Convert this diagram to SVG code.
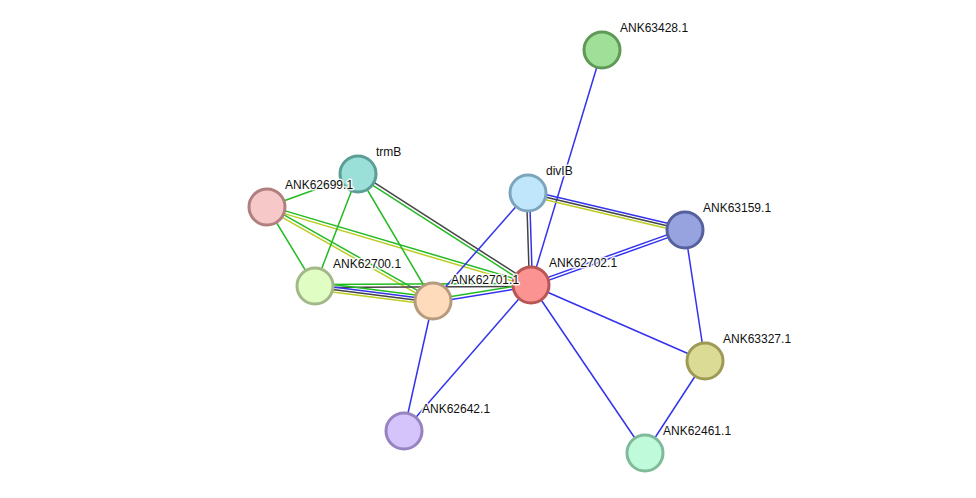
<svg xmlns="http://www.w3.org/2000/svg" width="976" height="498" viewBox="0 0 976 498">
<style>
.e{stroke-width:1.5;fill:none}
.b{stroke:#3333ee}
.g{stroke:#22bb22}
.k{stroke:#444444}
.y{stroke:#bbcc22}
.n{stroke-width:3}
text{font-family:"Liberation Sans",Arial,sans-serif;font-size:12px;fill:#111;stroke:#fff;stroke-width:3;stroke-opacity:0.85;paint-order:stroke;stroke-linejoin:round}
</style>
<rect width="976" height="498" fill="#fff"/>
<g id="edges">
<line class="e g" x1="267" y1="207" x2="358" y2="174"/>
<line class="e g" x1="267" y1="207" x2="315" y2="286"/>
<line class="e g" x1="267.7" y1="205.7" x2="433.7" y2="299.7"/>
<line class="e y" x1="266.3" y1="208.3" x2="432.3" y2="302.3"/>
<line class="e g" x1="267.4" y1="205.6" x2="531.4" y2="283.6"/>
<line class="e y" x1="266.6" y1="208.4" x2="530.6" y2="286.4"/>
<line class="e g" x1="358" y1="174" x2="315" y2="286"/>
<line class="e g" x1="358" y1="174" x2="433" y2="301"/>
<line class="e k" x1="358.8" y1="172.7" x2="531.8" y2="283.7"/>
<line class="e g" x1="357.2" y1="175.3" x2="530.2" y2="286.3"/>
<line class="e g" x1="315" y1="284.5" x2="531" y2="283.5"/>
<line class="e k" x1="315" y1="287.5" x2="531" y2="286.5"/>
<line class="e g" x1="315.5" y1="282.3" x2="433.5" y2="297.3"/>
<line class="e b" x1="315.2" y1="284.8" x2="433.2" y2="299.8"/>
<line class="e k" x1="314.8" y1="287.2" x2="432.8" y2="302.2"/>
<line class="e y" x1="314.5" y1="289.7" x2="432.5" y2="304.7"/>
<line class="e g" x1="432.8" y1="299.5" x2="530.8" y2="283.5"/>
<line class="e b" x1="433.2" y1="302.5" x2="531.2" y2="286.5"/>
<line class="e b" x1="433" y1="301" x2="528" y2="193"/>
<line class="e b" x1="433" y1="301" x2="404" y2="431"/>
<line class="e b" x1="532.5" y1="285" x2="529.5" y2="193"/>
<line class="e k" x1="529.5" y1="285" x2="526.5" y2="193"/>
<line class="e b" x1="531" y1="285" x2="602" y2="50"/>
<line class="e b" x1="531.5" y1="286.4" x2="685.5" y2="231.4"/>
<line class="e b" x1="530.5" y1="283.6" x2="684.5" y2="228.6"/>
<line class="e b" x1="531" y1="285" x2="705" y2="361"/>
<line class="e b" x1="531" y1="285" x2="645" y2="453"/>
<line class="e b" x1="531" y1="285" x2="404" y2="431"/>
<line class="e b" x1="528.6" y1="190.6" x2="685.6" y2="227.6"/>
<line class="e k" x1="528" y1="193" x2="685" y2="230"/>
<line class="e y" x1="527.4" y1="195.4" x2="684.4" y2="232.4"/>
<line class="e b" x1="685" y1="230" x2="705" y2="361"/>
<line class="e b" x1="705" y1="361" x2="645" y2="453"/>
</g>
<g id="ANK63428.1"><circle class="n" cx="602" cy="50" r="18" fill="#a0df97" stroke="#5e9a55"/><text x="620" y="32">ANK63428.1</text></g>
<g id="trmB"><circle class="n" cx="358" cy="174" r="18" fill="#9be0d8" stroke="#5a9e96"/><text x="376" y="156">trmB</text></g>
<g id="ANK62699.1"><circle class="n" cx="267" cy="207" r="18" fill="#f7c8c8" stroke="#b07f7f"/><text x="285" y="189">ANK62699.1</text></g>
<g id="divIB"><circle class="n" cx="528" cy="193" r="18" fill="#c0e6fb" stroke="#7ba5bd"/><text x="546" y="175">divIB</text></g>
<g id="ANK63159.1"><circle class="n" cx="685" cy="230" r="18" fill="#97a3df" stroke="#56609c"/><text x="703" y="212">ANK63159.1</text></g>
<g id="ANK62702.1"><circle class="n" cx="531" cy="285" r="18" fill="#fb9393" stroke="#b85555"/><text x="549" y="267">ANK62702.1</text></g>
<g id="ANK62700.1"><circle class="n" cx="315" cy="286" r="18" fill="#e0fdc4" stroke="#a3b888"/><text x="333" y="268">ANK62700.1</text></g>
<g id="ANK62701.1"><circle class="n" cx="433" cy="301" r="18" fill="#fddbbb" stroke="#b59a7e"/><text x="451" y="284">ANK62701.1</text></g>
<g id="ANK63327.1"><circle class="n" cx="705" cy="361" r="18" fill="#dcdb95" stroke="#9c9a55"/><text x="723" y="343">ANK63327.1</text></g>
<g id="ANK62642.1"><circle class="n" cx="404" cy="431" r="18" fill="#d5c4fb" stroke="#9683bf"/><text x="422" y="413">ANK62642.1</text></g>
<g id="ANK62461.1"><circle class="n" cx="645" cy="453" r="18" fill="#bffadb" stroke="#7fba9a"/><text x="663" y="435">ANK62461.1</text></g>
</svg>
